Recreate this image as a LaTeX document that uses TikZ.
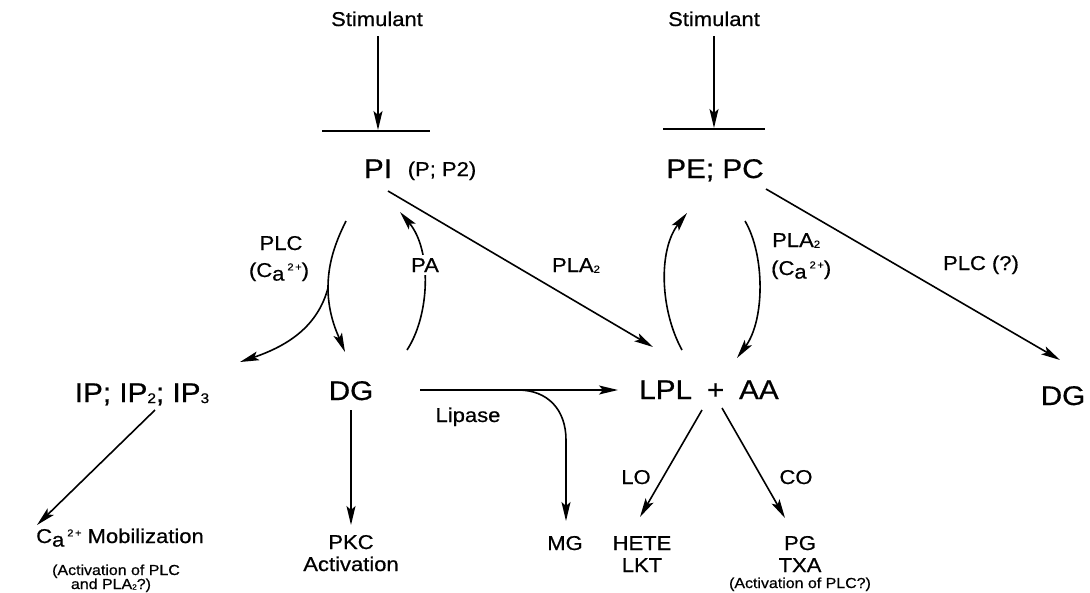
\documentclass[tikz,border=0pt]{standalone}
\usepackage{fontspec}
\setmainfont{Liberation Sans}[FakeStretch=1.1, FakeBold=0.6]
\usetikzlibrary{arrows.meta}

% calcium with the lowered "a" and a small charge
\newcommand\calcium{C\raisebox{-0.18em}{a}\hspace{0.15em}\raisebox{0.33em}{\scalebox{0.5}{2\,+}}}
% small index sitting on the baseline
\newcommand\lsub[1]{\raisebox{-0.04em}{\scalebox{0.52}{#1}}}

\begin{document}
\begin{tikzpicture}[x=1pt,y=-1pt,
  big/.style={font=\fontsize{27}{29}\selectfont, inner sep=0pt, anchor=base},
  mid/.style={font=\fontsize{20}{22}\selectfont, inner sep=0pt, anchor=base},
  small/.style={font=\fontsize{14.5}{15}\selectfont, inner sep=0pt, anchor=base},
  link/.style={line width=1.6pt, -{Stealth[length=19pt,width=9pt,inset=4pt]}},
  plain/.style={line width=1.6pt},
  membrane/.style={line width=2.6pt},
]
\useasboundingbox (0,0) rectangle (1090,592);

% ---- stimuli and membranes
\node[mid] (stimL) at (377,26) {Stimulant};
\node[mid] (stimR) at (714,26) {Stimulant};
\coordinate (memL) at (378,130);
\coordinate (memR) at (714,128);
\draw[membrane] (322,131) -- (430,131);
\draw[membrane] (663,129) -- (765,129);
\draw[link] (378,36) -- (memL);
\draw[link] (714,36) -- (memR);

% ---- phospholipids
\node[big] (pi) at (378,178) {PI};
\node[mid] (pip) at (442,176) {(P; P2)};
\node[big] (pepc) at (715,178) {PE; PC};

% ---- products, middle row
\node[big] (ip) at (142,402) {IP; IP\lsub{2}; IP\lsub{3}};
\node[big] (dg) at (351,400) {DG};
\node[big] (lpl) at (709,399) {LPL\hspace{0.55em}+\hspace{0.55em}AA};
\node[big] (dgR) at (1063,405) {DG};

% ---- bottom row
\node[mid] (ca) at (120,543) {\calcium\ Mobilization};
\node[small] (ca2) at (116,575) {(Activation of PLC};
\node[small] (ca3) at (111,589) {and PLA\lsub{2}?)};
\node[mid] (pkc) at (351,549) {PKC};
\node[mid] (pkc2) at (351,571) {Activation};
\node[mid] (mg) at (565,550) {MG};
\node[mid] (hete) at (642,550) {HETE};
\node[mid] (lkt) at (642,572) {LKT};
\node[mid] (pg) at (800,550) {PG};
\node[mid] (txa) at (800,572) {TXA};
\node[small] (pg3) at (800,588) {(Activation of PLC?)};

% ---- enzyme labels
\node[mid] (plc) at (281,250) {PLC};
\node[mid] (plcca) at (279,277) {(\calcium)};
\node[mid] (pla) at (576,272) {PLA\lsub{2}};
\node[mid, anchor=base west] (plaR) at (772,247) {PLA\lsub{2}};
\node[mid, anchor=base west] (plaRca) at (771,275) {(\calcium)};
\node[mid] (plcq) at (981,270) {PLC (?)};
\node[mid] (lipase) at (468,422) {Lipase};
\node[mid] (lo) at (636,484) {LO};
\node[mid] (co) at (796,484) {CO};

% ---- connector end points
\coordinate (piOut) at (346,221);
\coordinate (plcSplit) at (328,288);
\coordinate (dgIn) at (345,352);
\coordinate (ipIn) at (240,362);
\coordinate (dgOut) at (407,350);
\coordinate (piIn) at (400,212);
\coordinate (piSide) at (388,191);
\coordinate (lplIn) at (653,347);
\coordinate (lplOutL) at (682,350);
\coordinate (pepcIn) at (687,213);
\coordinate (pepcOut) at (745,221);
\coordinate (lplInR) at (737,358);
\coordinate (pepcSide) at (766,189);
\coordinate (dgRIn) at (1060,360);
\coordinate (dgRight) at (420,390);
\coordinate (lplLeft) at (618,390);
\coordinate (lipJoin) at (518,390);
\coordinate (mgIn) at (566,521);
\coordinate (ipOut) at (155,410);
\coordinate (caIn) at (37,525);
\coordinate (dgDown) at (351,410);
\coordinate (pkcIn) at (351,525);
\coordinate (lplDownL) at (702,410);
\coordinate (heteIn) at (640,517);
\coordinate (lplDownR) at (722,408);
\coordinate (pgIn) at (785,518);

% ---- PI cycle
\draw[plain] (piOut) .. controls (334,245) and (328,265) .. (plcSplit);
\draw[link] (plcSplit) .. controls (328,315) and (338,335) .. (dgIn);
\draw[link] (plcSplit) .. controls (318,325) and (290,345) .. (ipIn);
\draw[link] (dgOut) .. controls (430,315) and (432,250) .. (piIn);
\node[mid, fill=white, inner ysep=3pt, inner xsep=1pt] (pa) at (425,272) {PA};
\draw[link] (piSide) -- (lplIn);

% ---- PE/PC cycle
\draw[link] (lplOutL) .. controls (660,310) and (658,250) .. (pepcIn);
\draw[link] (pepcOut) .. controls (765,255) and (765,320) .. (lplInR);
\draw[link] (pepcSide) -- (dgRIn);

% ---- DG branches
\draw[link] (dgRight) -- (lplLeft);
\draw[link] (lipJoin) .. controls (548,390) and (566,410) .. (566,440) -- (mgIn);
\draw[link] (dgDown) -- (pkcIn);
\draw[link] (ipOut) -- (caIn);

% ---- arachidonic acid branches
\draw[link] (lplDownL) -- (heteIn);
\draw[link] (lplDownR) -- (pgIn);
\end{tikzpicture}
\end{document}
